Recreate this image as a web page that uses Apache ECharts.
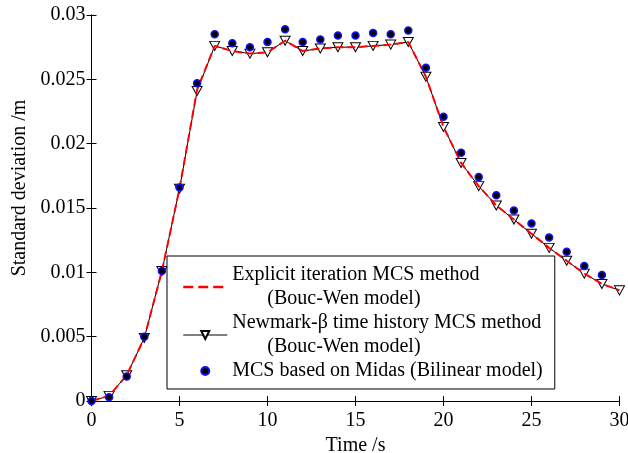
<!DOCTYPE html>
<html>
<head>
<meta charset="utf-8">
<script src="https://cdn.jsdelivr.net/npm/echarts@6/dist/echarts.min.js"></script>
<style>html,body{margin:0;padding:0;background:#fff;}#c{width:628px;height:453px;}</style>
</head>
<body>
<div id="c"></div>
<script>
var time = [0,1,2,3,4,5,6,7,8,9,10,11,12,13,14,15,16,17,18,19,20,21,22,23,24,25,26,27,28,29,30];
var explicitMCS = [0,0.0004,0.0020,0.0049,0.0101,0.0165,0.0242,0.0276,0.0272,0.0270,0.0271,0.0280,0.0272,0.0274,0.0275,0.0275,0.0276,0.0277,0.0279,0.0252,0.0213,0.0185,0.0167,0.0152,0.0141,0.0130,0.0119,0.0109,0.0099,0.0091,0.0086];
var newmarkMCS = [0,0.0004,0.0020,0.0049,0.0101,0.0165,0.0241,0.0276,0.0272,0.0270,0.0271,0.0280,0.0272,0.0274,0.0275,0.0275,0.0276,0.0277,0.0279,0.0252,0.0213,0.0185,0.0167,0.0152,0.0141,0.0130,0.0119,0.0109,0.0099,0.0091,0.0086];
var midasMCS = [0,0.0003,0.0019,0.0050,0.0101,0.0166,0.0247,0.0285,0.0278,0.0275,0.0279,0.0289,0.0279,0.0281,0.0284,0.0284,0.0286,0.0285,0.0288,0.0259,0.0221,0.0193,0.0174,0.0160,0.0148,0.0138,0.0127,0.0116,0.0105,0.0098];
var yTicks = ['0','0.005','0.01','0.015','0.02','0.025','0.03'];
var names = ['Explicit iteration MCS method', 'Newmark-\u03b2 time history MCS method', 'MCS based on Midas (Bilinear model)'];
var subNames = ['       (Bouc-Wen model)', '       (Bouc-Wen model)', null];

function pairs(xs, ys){ return ys.map(function(v,i){ return [xs[i], v]; }); }
var FONT = 'Liberation Serif';
var chart = echarts.init(document.getElementById('c'));
var axisCommon = {
  axisLine:{lineStyle:{color:'#000',width:1}},
  axisTick:{inside:true,length:5,lineStyle:{color:'#000'}},
  splitLine:{show:false}
};
chart.setOption({
  animation:false,
  backgroundColor:'#fff',
  grid:{left:91.5,right:8.5,top:15,bottom:52,containLabel:false,outerBoundsMode:'none'},
  xAxis:[
    Object.assign({type:'value',min:0,max:30,interval:5,position:'bottom',
      name:'Time /s',nameLocation:'middle',nameGap:27,
      nameTextStyle:{fontFamily:FONT,fontSize:20,color:'#000'},
      axisLabel:{fontFamily:FONT,fontSize:20,color:'#000',margin:10}}, axisCommon),
    Object.assign({type:'value',min:0,max:30,interval:5,position:'top',axisLabel:{show:false}}, axisCommon)
  ],
  yAxis:[
    Object.assign({type:'value',min:0,max:0.03,interval:0.005,position:'left',
      name:'Standard deviation /m',nameLocation:'middle',nameGap:62,
      nameTextStyle:{fontFamily:FONT,fontSize:20,color:'#000',padding:[0,0,0,40]},
      axisLabel:{fontFamily:FONT,fontSize:20,color:'#000',margin:6,
        formatter:function(v){ var i=Math.round(v/0.005); return yTicks[i]; }}}, axisCommon),
    Object.assign({type:'value',min:0,max:0.03,interval:0.005,position:'right',axisLabel:{show:false}}, axisCommon)
  ],
  legend:{
    orient:'vertical',left:167,top:256,
    backgroundColor:'#fff',borderColor:'#000',borderWidth:1,
    padding:[7,12,6,15],itemGap:0,itemWidth:44,itemHeight:10,
    data:[
      {name:names[0],itemStyle:{opacity:0,borderWidth:0},lineStyle:{width:2.5,type:[10,5]}},
      {name:names[1],lineStyle:{width:1}},
      {name:names[2]}
    ],
    formatter:function(n){ var i=names.indexOf(n); return subNames[i] ? n+'\n'+subNames[i] : n; },
    textStyle:{fontFamily:FONT,fontSize:20,color:'#000',lineHeight:24}
  },
  series:[
    {name:names[1],type:'line',data:pairs(time,newmarkMCS),z:2,
     symbol:'triangle',symbolRotate:180,symbolSize:[10,9],showSymbol:true,
     lineStyle:{color:'#000',width:1},
     itemStyle:{color:'#fff',borderColor:'#000',borderWidth:1}},
    {name:names[0],type:'line',data:pairs(time,explicitMCS),z:3,
     symbol:'none',
     lineStyle:{color:'#ff0000',width:2,type:[8,4]},
     itemStyle:{color:'#ff0000'}},
    {name:names[2],type:'line',data:pairs(time,midasMCS),z:4,
     symbol:'circle',symbolSize:7,showSymbol:true,
     lineStyle:{width:0,opacity:0},
     itemStyle:{color:'#000',borderColor:'#1010ff',borderWidth:1.5}}
  ]
});
</script>
</body>
</html>
